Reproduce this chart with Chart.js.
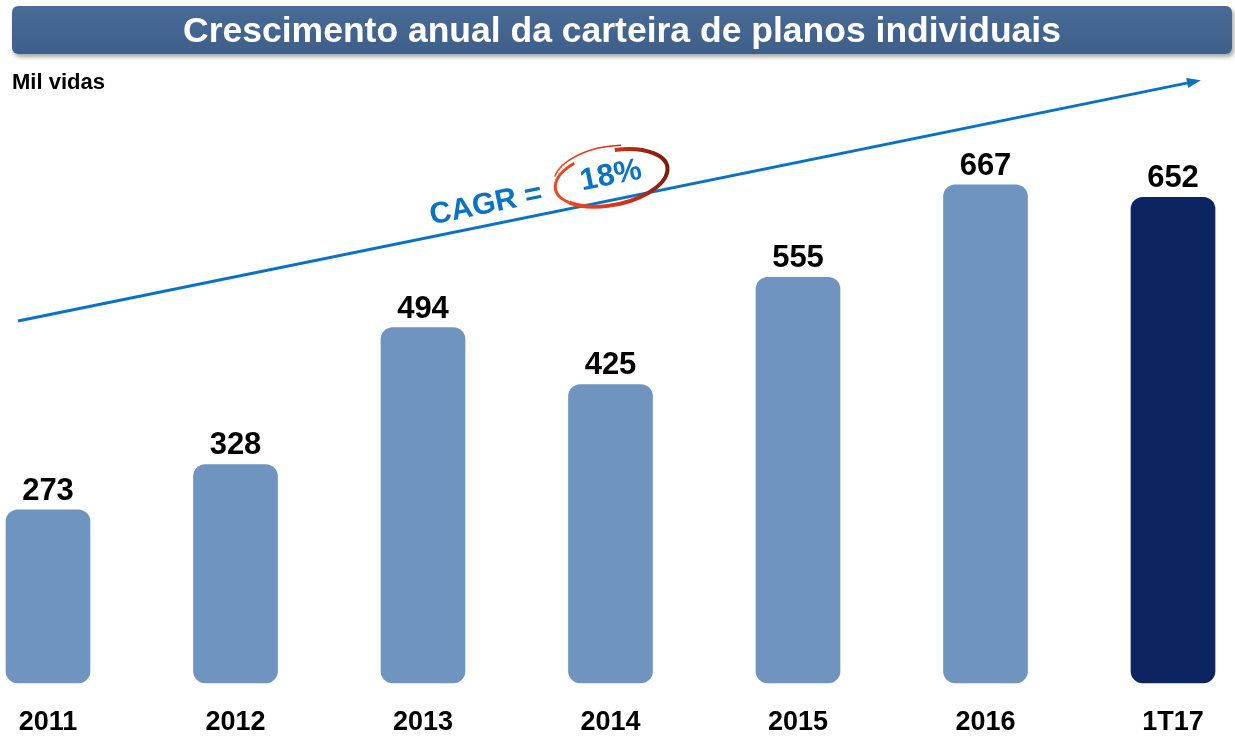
<!DOCTYPE html>
<html>
<head>
<meta charset="utf-8">
<script src="https://cdn.jsdelivr.net/npm/chart.js@4"></script>
<style>
    body { margin: 0; background: #fff; font-family: "Liberation Sans", Arial, sans-serif; }
    #wrap { position: relative; width: 1235px; height: 736px; }
    #title {
        position: absolute; left: 12px; top: 6px; width: 1220px; height: 48px;
        background: linear-gradient(#4a6a96, #3f5f8b);
        border-radius: 6px; box-shadow: 2px 3px 4px rgba(0,0,0,0.35);
        color: #fff; font-weight: bold; font-size: 35.5px; line-height: 48px; text-align: center;
    }
    #unit { position: absolute; left: 12px; top: 69px; font-weight: bold; font-size: 22px; }
    canvas { position: absolute; left: 0; top: 0; }
</style>
</head>
<body>
<div id="wrap">
    <canvas id="chart" width="1235" height="736"></canvas>
    <div id="title">Crescimento anual da carteira de planos individuais</div>
    <div id="unit">Mil vidas</div>
</div>
<script>
// data
const years = ["2011", "2012", "2013", "2014", "2015", "2016", "1T17"];
const lives = [273, 328, 494, 425, 555, 667, 652];
const barColors = ["#6f94c0", "#6f94c0", "#6f94c0", "#6f94c0", "#6f94c0", "#6f94c0", "#0c2461"];
// value axis range (bars start at the axis bottom, not at zero)
const axisMin = 63;
const axisMax = 770;

// value labels above the bars
const valueLabels = {
    id: 'valueLabels',
    afterDatasetsDraw(chart) {
        const ctx = chart.ctx;
        const meta = chart.getDatasetMeta(0);
        ctx.save();
        ctx.font = 'bold 31px "Liberation Sans", Arial';
        ctx.fillStyle = '#000';
        ctx.textAlign = 'center';
        ctx.textBaseline = 'alphabetic';
        meta.data.forEach((bar, i) => {
            ctx.fillText(lives[i], bar.x, bar.y - 10);
        });
        ctx.restore();
    }
};

// CAGR arrow with circled rate
const cagr = {
    id: 'cagr',
    afterDraw(chart) {
        const ctx = chart.ctx;
        const x1 = 18, y1 = 321, x2 = 1197, y2 = 81;
        const ang = Math.atan2(y2 - y1, x2 - x1);
        ctx.save();
        ctx.strokeStyle = '#0a72c4';
        ctx.fillStyle = '#0a72c4';
        ctx.lineWidth = 3;
        ctx.beginPath();
        ctx.moveTo(x1, y1);
        ctx.lineTo(x2 - 8 * Math.cos(ang), y2 - 8 * Math.sin(ang));
        ctx.stroke();
        // arrow head
        ctx.translate(x2, y2);
        ctx.rotate(ang);
        ctx.beginPath();
        ctx.moveTo(4, 0);
        ctx.lineTo(-10, -5);
        ctx.lineTo(-10, 5);
        ctx.closePath();
        ctx.fill();
        ctx.restore();

        // text
        ctx.save();
        ctx.translate(486, 205);
        ctx.rotate(ang);
        ctx.font = 'bold 30px "Liberation Sans", Arial';
        ctx.fillStyle = '#0a72c4';
        ctx.textAlign = 'center';
        ctx.textBaseline = 'middle';
        ctx.fillText('CAGR =', 0, 0);
        ctx.restore();

        ctx.save();
        ctx.translate(611, 176);
        ctx.rotate(ang);
        ctx.font = 'bold 31px "Liberation Sans", Arial';
        ctx.fillStyle = '#0a72c4';
        ctx.textAlign = 'center';
        ctx.textBaseline = 'middle';
        ctx.fillText('18%', 0, 0);
        // circle
        const g = ctx.createLinearGradient(-58, 0, 58, 0);
        g.addColorStop(0, '#ee4a1e');
        g.addColorStop(0.55, '#d6341a');
        g.addColorStop(1, '#7a1a0c');
        ctx.strokeStyle = g;
        ctx.lineWidth = 3;
        ctx.beginPath();
        ctx.ellipse(0, 2, 57, 27, 0, Math.PI * 0.8, Math.PI * 1.3);
        ctx.stroke();
        ctx.lineWidth = 4;
        ctx.beginPath();
        ctx.ellipse(0, 2, 57, 27, 0, Math.PI * 1.55, Math.PI * 2.8);
        ctx.stroke();
        ctx.lineWidth = 1.5;
        ctx.beginPath();
        ctx.ellipse(-4, -2, 54, 28, 0, Math.PI * 1.1, Math.PI * 1.62);
        ctx.stroke();
        ctx.restore();
    }
};

const chart = new Chart(document.getElementById('chart'), {
    type: 'bar',
    data: {
        labels: years,
        datasets: [{
            data: lives,
            base: axisMin,
            backgroundColor: barColors,
            borderColor: barColors,
            borderWidth: 0,
            borderRadius: 12,
            borderSkipped: false,
            barThickness: 84,
            clip: false
        }]
    },
    options: {
        responsive: false,
        animation: false,
        layout: {
            padding: { top: 100, left: 48, right: 62, bottom: 0 }
        },
        plugins: {
            legend: { display: false },
            tooltip: { enabled: false },
            title: { display: false }
        },
        scales: {
            x: {
                offset: false,
                grid: { display: false },
                border: { display: false },
                afterFit(scale) { scale.height = 53; },
                ticks: {
                    color: '#000',
                    padding: 15,
                    font: { family: '"Liberation Sans", Arial', size: 27, weight: 'bold' }
                }
            },
            y: {
                display: false,
                beginAtZero: false,
                min: axisMin,
                max: axisMax
            }
        }
    },
    plugins: [valueLabels, cagr]
});
</script>
</body>
</html>
